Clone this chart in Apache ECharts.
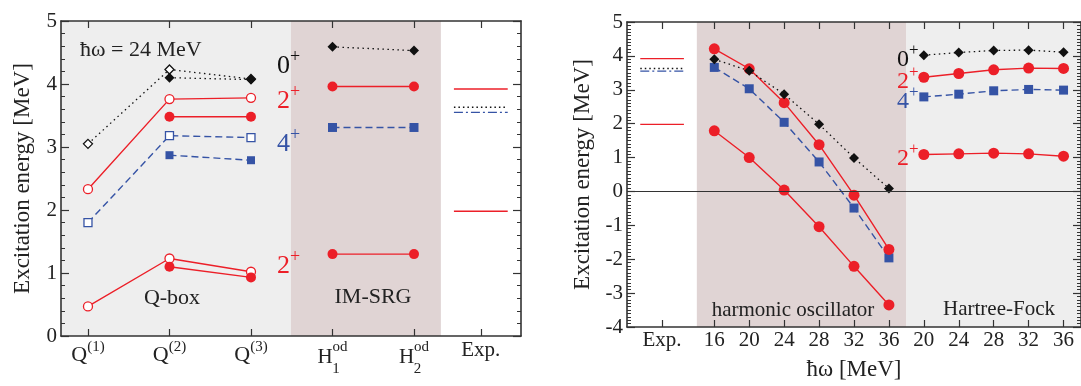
<!DOCTYPE html>
<html>
<head>
<meta charset="utf-8">
<script src="https://cdn.jsdelivr.net/npm/echarts@6/dist/echarts.min.js"></script>
<style>
html,body{margin:0;padding:0;background:#fff;}
#chart{width:1081px;height:386px;}
</style>
</head>
<body>
<div id="chart"></div>
<script>
// ---------------- DATA ----------------
// Left panel: x positions of the tick categories and their labels
const leftTickPos = [1, 2, 3, 4, 5, 5.82];
const leftTickLabels = ['Q^(1)', 'Q^(2)', 'Q^(3)', 'H^od', 'H^od', 'Exp.'];
// subscripts of the two IM-SRG generators (H_1^od, H_2^od)
const leftSubPos = [4, 5];
const leftSubLabels = ['1', '2'];
const qboxX = [1, 2, 3];
const imsrgX = [4, 5];

// Q-box results (open symbols / filled symbols)
const qbox0pOpen = [3.05, 4.23, 4.08];
const qbox0pFilled = [null, 4.10, 4.07];
const qbox2pUpOpen = [2.33, 3.76, 3.78];
const qbox2pUpFilled = [null, 3.48, 3.48];
const qbox4pOpen = [1.80, 3.18, 3.15];
const qbox4pFilled = [null, 2.87, 2.79];
const qbox2pLowOpen = [0.47, 1.23, 1.02];
const qbox2pLowFilled = [null, 1.10, 0.93];

// IM-SRG results
const imsrg0p = [4.59, 4.53];
const imsrg2pUp = [3.96, 3.96];
const imsrg4p = [3.31, 3.31];
const imsrg2pLow = [1.30, 1.30];

// Experimental levels: 2+, 0+, 4+, 2+
const expLevels = [3.92, 3.63, 3.55, 1.98];

// Right panel
const rightTickPos = [-0.5, 1, 2, 3, 4, 5, 6, 7, 8, 9, 10, 11];
const rightTickLabels = ['Exp.', '16', '20', '24', '28', '32', '36', '20', '24', '28', '32', '36'];
const hoX = [1, 2, 3, 4, 5, 6];     // hbar-omega 16..36 (harmonic oscillator)
const hfX = [7, 8, 9, 10, 11];      // hbar-omega 20..36 (Hartree-Fock)

const ho0p = [3.90, 3.56, 2.87, 1.98, 0.99, 0.09];
const ho2pUp = [4.21, 3.62, 2.62, 1.38, -0.11, -1.71];
const ho4p = [3.66, 3.03, 2.04, 0.87, -0.49, -1.96];
const ho2pLow = [1.79, 1.00, 0.04, -1.04, -2.21, -3.35];

const hf0p = [4.02, 4.10, 4.16, 4.17, 4.11];
const hf2pUp = [3.37, 3.48, 3.59, 3.64, 3.63];
const hf4p = [2.79, 2.87, 2.97, 3.01, 2.99];
const hf2pLow = [1.09, 1.11, 1.13, 1.11, 1.04];

// ---------------- STYLE / LAYOUT ----------------
const FONT = 'Liberation Serif';
const RED = '#ec1f28';
const BLUE = '#3553a5';
const BLACK = '#111111';
const GRAY = '#eeeeee';
const ROSE = '#e0d4d4';
const AXIS = '#333333';
const TXT = '#222222';

const LEFT_X = [0.669, 6.313];
const RIGHT_X = [-1.5, 11.5];
const LEFT_EXP_SPAN = [5.49, 6.15];
const RIGHT_EXP_SPAN = [-1.12, 0.13];
const SUB_SHIFT = 0.043; // horizontal shift of subscripts (in axis units)
const expStyles = [
  {color: RED, type: 'solid'},
  {color: BLACK, type: [1.5, 3]},
  {color: BLUE, type: [9, 3, 2, 3]},
  {color: RED, type: 'solid'}
];

function pts(xs, ys) {
  const out = [];
  xs.forEach((x, i) => { if (ys[i] !== null && ys[i] !== undefined) out.push([x, ys[i]]); });
  return out;
}

function ser(gi, xs, ys, o) {
  return {
    type: 'line', xAxisIndex: gi === 0 ? 0 : 3, yAxisIndex: gi * 2,
    data: pts(xs, ys),
    symbol: o.symbol, symbolSize: o.size,
    showAllSymbol: true,
    itemStyle: o.open ? {color: '#ffffff', borderColor: o.color, borderWidth: 1.3}
                      : {color: o.color, borderColor: o.color, borderWidth: 0},
    lineStyle: {color: o.color, width: o.lw || 1.4, type: o.dash || 'solid'},
    emphasis: {disabled: true},
    z: o.z || 3
  };
}

const DOT = [1.5, 3.5];
const DASH = [7, 4];

function richLeft(label) {
  const k = label.indexOf('^');
  if (k > 0) {
    const base = label.slice(0, k);
    const sup = label.slice(k + 1);
    return (base === 'Q' ? '{q|' : '{h|') + base + '}{s|' + sup + '}';
  }
  return '{e|' + label + '}';
}

function findIdx(arr, v) {
  for (let i = 0; i < arr.length; i++) if (Math.abs(arr[i] - v) < 1e-6) return i;
  return -1;
}

function yAxisDef(gi, pos, min, max, minorSplit, showLabel, name, nameGap) {
  return {
    type: 'value', gridIndex: gi, position: pos, min: min, max: max, interval: 1,
    z: 10,
    axisLine: {show: true, onZero: false, lineStyle: {color: AXIS, width: 1.6}},
    axisTick: {show: true, inside: true, length: 8, lineStyle: {color: AXIS, width: 1.2}},
    minorTick: {show: true, splitNumber: minorSplit, length: 4, lineStyle: {color: AXIS, width: 1}},
    splitLine: {show: false},
    minorSplitLine: {show: false},
    axisLabel: {show: showLabel, margin: 4, fontFamily: FONT, fontSize: 21, color: TXT},
    name: name || '', nameLocation: 'middle', nameGap: nameGap || 0, nameRotate: 90,
    nameTextStyle: {fontFamily: FONT, fontSize: 23, color: TXT}
  };
}

function xAxisDef(gi, pos, range, tickPos, labelOpt, name) {
  return {
    type: 'value', gridIndex: gi, position: pos, min: range[0], max: range[1],
    z: 10,
    axisLine: {show: true, onZero: false, lineStyle: {color: AXIS, width: 1.6}},
    axisTick: {show: true, inside: true, length: 7, customValues: tickPos, lineStyle: {color: AXIS, width: 1.2}},
    splitLine: {show: false},
    axisLabel: labelOpt ? Object.assign({customValues: tickPos}, labelOpt) : {show: false},
    name: name || '', nameLocation: 'middle', nameGap: 31,
    nameTextStyle: {fontFamily: FONT, fontSize: 23, color: TXT}
  };
}

const leftLabelOpt = {
  show: true, margin: 4, fontFamily: FONT, color: TXT,
  formatter: function (v) {
    const i = findIdx(leftTickPos, v);
    return i < 0 ? '' : richLeft(leftTickLabels[i]);
  },
  rich: {
    q: {fontFamily: FONT, fontSize: 22, color: TXT, lineHeight: 31},
    h: {fontFamily: FONT, fontSize: 21, color: TXT, lineHeight: 35},
    s: {fontFamily: FONT, fontSize: 15, color: TXT, lineHeight: 17, verticalAlign: 'top'},
    e: {fontFamily: FONT, fontSize: 21, color: TXT, lineHeight: 14, verticalAlign: 'top'}
  }
};

const subPosShifted = leftSubPos.map(p => p + SUB_SHIFT);
const leftSubAxis = {
  type: 'value', gridIndex: 0, position: 'bottom', min: LEFT_X[0], max: LEFT_X[1],
  axisLine: {show: false}, axisTick: {show: false}, splitLine: {show: false},
  axisLabel: {
    show: true, margin: 26, fontFamily: FONT, fontSize: 15, color: TXT, lineHeight: 14,
    customValues: subPosShifted,
    formatter: function (v) {
      const i = findIdx(subPosShifted, v);
      return i < 0 ? '' : leftSubLabels[i];
    }
  }
};

const rightLabelOpt = {
  show: true, margin: 3, fontFamily: FONT, fontSize: 21, color: TXT, lineHeight: 20,
  formatter: function (v) {
    const i = findIdx(rightTickPos, v);
    return i < 0 ? '' : rightTickLabels[i];
  }
};

const series = [];

// ----- left panel: background bands attached to a carrier series -----
series.push({
  type: 'line', xAxisIndex: 0, yAxisIndex: 0, data: [], silent: true, z: 1,
  markArea: {
    silent: true,
    data: [
      [{xAxis: LEFT_X[0], itemStyle: {color: GRAY}}, {xAxis: 3.49}],
      [{xAxis: 3.49, itemStyle: {color: ROSE}}, {xAxis: 5.33}]
    ]
  }
});
// exp levels (left)
expLevels.forEach((v, i) => {
  series.push({
    type: 'line', xAxisIndex: 0, yAxisIndex: 0, symbol: 'none', silent: true,
    data: [[LEFT_EXP_SPAN[0], v], [LEFT_EXP_SPAN[1], v]],
    lineStyle: {color: expStyles[i].color, type: expStyles[i].type, width: 1.4}, z: 3
  });
});
// Q-box
series.push(ser(0, qboxX, qbox2pLowOpen, {symbol: 'circle', size: 9, open: true, color: RED}));
series.push(ser(0, qboxX, qbox2pLowFilled, {symbol: 'circle', size: 10, color: RED}));
series.push(ser(0, qboxX, qbox4pOpen, {symbol: 'rect', size: 8, open: true, color: BLUE, dash: DASH}));
series.push(ser(0, qboxX, qbox4pFilled, {symbol: 'rect', size: 8, color: BLUE, dash: DASH}));
series.push(ser(0, qboxX, qbox2pUpOpen, {symbol: 'circle', size: 9, open: true, color: RED}));
series.push(ser(0, qboxX, qbox2pUpFilled, {symbol: 'circle', size: 10, color: RED}));
series.push(ser(0, qboxX, qbox0pOpen, {symbol: 'diamond', size: 9, open: true, color: BLACK, dash: DOT, lw: 1.3}));
series.push(ser(0, qboxX, qbox0pFilled, {symbol: 'diamond', size: 10, color: BLACK, dash: DOT, lw: 1.3}));
// IM-SRG
series.push(ser(0, imsrgX, imsrg2pLow, {symbol: 'circle', size: 10, color: RED}));
series.push(ser(0, imsrgX, imsrg4p, {symbol: 'rect', size: 9, color: BLUE, dash: DASH}));
series.push(ser(0, imsrgX, imsrg2pUp, {symbol: 'circle', size: 10, color: RED}));
series.push(ser(0, imsrgX, imsrg0p, {symbol: 'diamond', size: 10, color: BLACK, dash: DOT, lw: 1.3}));

// ----- right panel -----
series.push({
  type: 'line', xAxisIndex: 3, yAxisIndex: 2, data: [], silent: true, z: 1,
  markArea: {
    silent: true,
    data: [
      [{xAxis: 0.5, itemStyle: {color: ROSE}}, {xAxis: 6.5}],
      [{xAxis: 6.5, itemStyle: {color: GRAY}}, {xAxis: RIGHT_X[1]}]
    ]
  },
  markLine: {
    silent: true, symbol: ['none', 'none'], label: {show: false},
    lineStyle: {color: AXIS, width: 1, type: 'solid'},
    data: [{yAxis: 0}]
  }
});
expLevels.forEach((v, i) => {
  series.push({
    type: 'line', xAxisIndex: 3, yAxisIndex: 2, symbol: 'none', silent: true,
    data: [[RIGHT_EXP_SPAN[0], v], [RIGHT_EXP_SPAN[1], v]],
    lineStyle: {color: expStyles[i].color, type: expStyles[i].type, width: 1.4}, z: 3
  });
});
series.push(ser(1, hoX, ho2pLow, {symbol: 'circle', size: 11, color: RED}));
series.push(ser(1, hoX, ho4p, {symbol: 'rect', size: 9, color: BLUE, dash: DASH}));
series.push(ser(1, hoX, ho2pUp, {symbol: 'circle', size: 11, color: RED}));
series.push(ser(1, hoX, ho0p, {symbol: 'diamond', size: 10, color: BLACK, dash: DOT, lw: 1.3}));
series.push(ser(1, hfX, hf2pLow, {symbol: 'circle', size: 11, color: RED}));
series.push(ser(1, hfX, hf4p, {symbol: 'rect', size: 9, color: BLUE, dash: DASH}));
series.push(ser(1, hfX, hf2pUp, {symbol: 'circle', size: 11, color: RED}));
series.push(ser(1, hfX, hf0p, {symbol: 'diamond', size: 10, color: BLACK, dash: DOT, lw: 1.3}));

// ----- annotations -----
function stateLabel(x, y, digit, color, size) {
  return {
    type: 'text', x: x, y: y, z: 20, silent: true,
    style: {
      text: '{d|' + digit + '}{p|+}',
      align: 'left', verticalAlign: 'middle',
      rich: {
        d: {fontFamily: FONT, fontSize: size, fill: color, color: color, lineHeight: size},
        p: {fontFamily: FONT, fontSize: Math.round(size * 0.7), fill: color, color: color,
            lineHeight: 8, padding: [0, 0, 18, 0]}
      }
    }
  };
}
function plainText(x, y, text, align, size) {
  return {
    type: 'text', x: x, y: y, z: 20, silent: true,
    style: {text: text, fontFamily: FONT, fontSize: size || 21, fill: TXT, align: align || 'center', verticalAlign: 'middle'}
  };
}

const graphics = [
  plainText(80, 50, 'ħω = 24 MeV', 'left', 22),
  plainText(172, 298, 'Q-box', 'center', 22),
  plainText(373, 297, 'IM-SRG', 'center', 22),
  plainText(793, 310, 'harmonic oscillator', 'center', 21),
  plainText(999, 309, 'Hartree-Fock', 'center', 21),
  stateLabel(277, 66, '0', BLACK, 26),
  stateLabel(277, 101, '2', RED, 26),
  stateLabel(277, 144, '4', BLUE, 26),
  stateLabel(277, 266, '2', RED, 26),
  stateLabel(897, 60, '0', BLACK, 24),
  stateLabel(897, 82, '2', RED, 24),
  stateLabel(897, 102, '4', BLUE, 24),
  stateLabel(897, 159, '2', RED, 24)
];

const option = {
  animation: false,
  backgroundColor: '#ffffff',
  grid: [
    {left: 61, top: 21, width: 460, height: 315, containLabel: false},
    {left: 627, top: 22, width: 461, height: 314, containLabel: false}
  ],
  xAxis: [
    xAxisDef(0, 'bottom', LEFT_X, leftTickPos, leftLabelOpt),
    xAxisDef(0, 'top', LEFT_X, leftTickPos, null),
    leftSubAxis,
    xAxisDef(1, 'bottom', RIGHT_X, rightTickPos, rightLabelOpt, 'ħω [MeV]'),
    xAxisDef(1, 'top', RIGHT_X, rightTickPos, null)
  ],
  yAxis: [
    yAxisDef(0, 'left', 0, 5, 5, true, 'Excitation energy [MeV]', 27),
    yAxisDef(0, 'right', 0, 5, 5, false),
    yAxisDef(1, 'left', -4, 5, 10, true, 'Excitation energy [MeV]', 33),
    yAxisDef(1, 'right', -4, 5, 10, false)
  ],
  series: series,
  graphic: graphics
};

const chart = echarts.init(document.getElementById('chart'), null, {renderer: 'canvas'});
chart.setOption(option);
</script>
</body>
</html>
